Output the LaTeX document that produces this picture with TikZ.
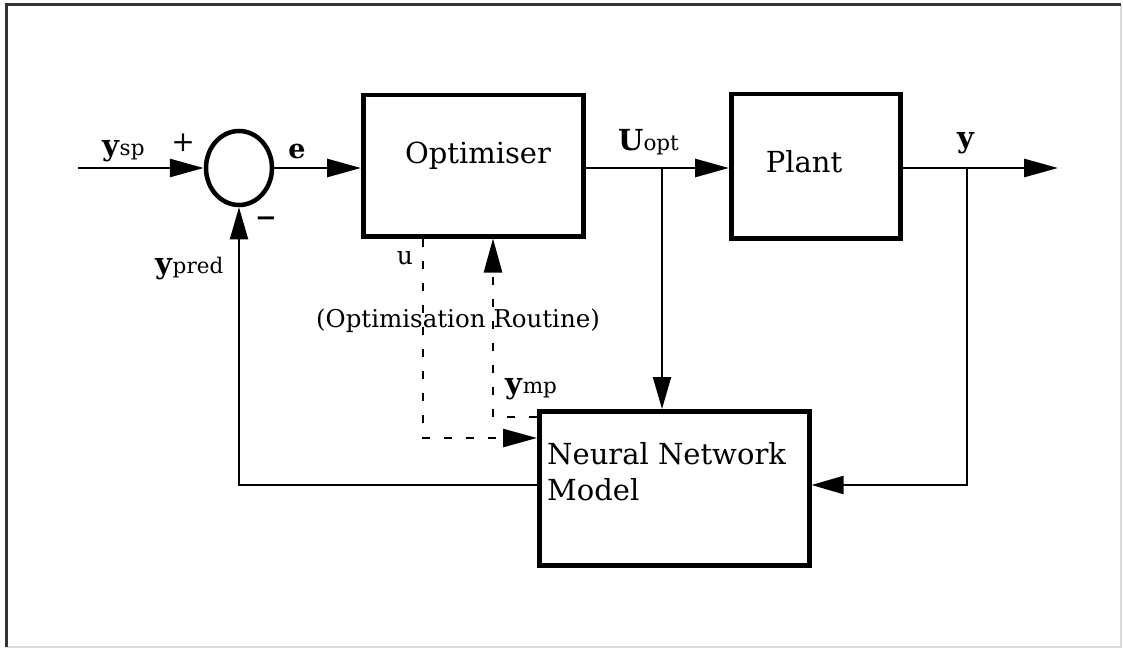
\documentclass[tikz,border=0pt]{standalone}
\usepackage{fontspec}
\setmainfont{DejaVu Serif}
\usetikzlibrary{arrows.meta,shapes.geometric}

\newcommand\lblsize{\fontsize{29}{35}\selectfont}
\newcommand\subt[1]{{\fontsize{21.5}{24}\selectfont\mdseries #1}}

\tikzset{
  blk/.style={draw, line width=4.5pt, inner sep=0pt, anchor=north west},
  txt/.style={inner sep=0pt, font=\lblsize},
  sig/.style={line width=2.8pt, -{Triangle[length=34pt,width=18pt]}},
  fbk/.style={line width=2pt, -{Triangle[length=32pt,width=18pt]}},
  dsh/.style={line width=2.6pt, dash pattern=on 8pt off 14pt, -{Triangle[length=34pt,width=18pt]}}
}

\begin{document}
\begin{tikzpicture}[x=1pt, y=-1pt]
\useasboundingbox (0,0) rectangle (1123,650);

% outer frame
\draw[line width=1.5pt, black!15] (1121,5) -- (1121,647) -- (6,647);
\draw[line width=3pt, black!80] (6,647) -- (6,5) -- (1121,5);

% blocks
\node[blk, minimum width=220pt, minimum height=141pt] (opt) at (361,93) {};
\node[blk, minimum width=169pt, minimum height=144pt] (plant) at (729,92) {};
\node[blk, minimum width=270pt, minimum height=154pt] (nn) at (537,409) {};
\node[draw, ellipse, line width=4.5pt, minimum width=66pt, minimum height=74pt, inner sep=0pt] (sum) at (239,168) {};

% block texts
\node[txt, anchor=base] (optlbl) at (478,163) {Optimiser};
\node[txt, anchor=base] (plantlbl) at (804,172) {Plant};
\node[txt, anchor=base west] (nnlbl1) at (547,464) {Neural Network};
\node[txt, anchor=base west] (nnlbl2) at (547,500) {Model};

% junctions and free ends
\coordinate (in) at (78,168);
\coordinate (out) at (1058,168);
\coordinate (bu) at (662,168);
\coordinate (by) at (967,168);
\coordinate (fy) at (967,485);
\coordinate (fp) at (239,485);
\coordinate (du) at (423,438);
\coordinate (dm) at (493,417);

% forward path
\draw[sig] (in) -- (sum.west);
\draw[sig] (sum.east) -- (sum.east -| opt.west);
\draw[sig] (bu -| opt.east) -- (bu -| plant.west);
\draw[sig] (by -| plant.east) -- (out);

% model branches
\draw[fbk] (bu) -- (bu |- nn.north);
\draw[fbk] (by) -- (fy) -- (fy -| nn.east);
\draw[fbk] (fp -| nn.west) -- (fp) -- (sum.south);

% optimisation routine loop
\draw[dsh] (du |- opt.south) -- (du) -- (du -| nn.west);
\draw[dsh] (dm -| nn.west) -- (dm) -- (dm |- opt.south);

% signal labels
\node[txt, anchor=base west] (ysp) at (102,155) {\textbf{y}\subt{sp}};
\node[txt, font=\fontsize{28}{30}\selectfont] (plus) at (183,143) {+};
\node[txt, anchor=base, font=\fontsize{27}{30}\selectfont] (elbl) at (297,158) {\textbf{e}};
\node[txt, font=\fontsize{26}{28}\selectfont\bfseries] (minus) at (266,222) {−};
\node[txt, anchor=base west] (ypred) at (155,273) {\textbf{y}\subt{pred}};
\node[txt, anchor=base, font=\fontsize{25}{26}\selectfont] (ulbl) at (405,264) {u};
\node[txt, anchor=base, font=\fontsize{24.5}{26}\selectfont] (routine) at (458,327) {(Optimisation Routine)};
\node[txt, anchor=base west] (ymp) at (505,393) {\textbf{y}\subt{mp}};
\node[txt, anchor=base west] (uopt) at (618,150) {\textbf{U}\subt{opt}};
\node[txt, anchor=base] (ylbl) at (966,147) {\textbf{y}};
\end{tikzpicture}
\end{document}
